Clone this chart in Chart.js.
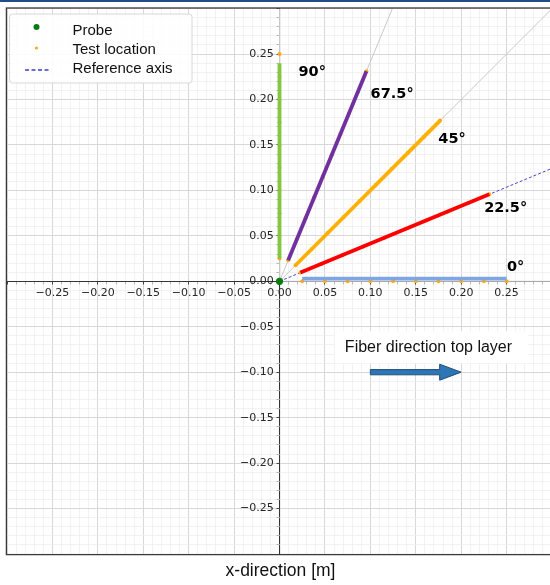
<!DOCTYPE html>
<html>
<head>
<meta charset="utf-8">
<script src="https://cdn.jsdelivr.net/npm/chart.js@4.4.1/dist/chart.umd.min.js"></script>
<style>
  html, body { margin: 0; padding: 0; background: #fff; overflow: hidden; width: 550px; height: 585px; }
  #topbar { position: absolute; left: 0; top: 0; width: 550px; height: 2px; background: #1f4b88; z-index: 2; }
  #wrap { position: absolute; left: 0; top: 0; width: 556px; height: 585px; }
</style>
</head>
<body>
<div id="topbar"></div>
<div id="wrap"><canvas id="c"></canvas></div>
<script>
// Fibre orientations of the tested layers (degrees from the x axis)
const fiberAngles = [0, 22.5, 45, 67.5, 90];
const angleLabels = ['0°', '22.5°', '45°', '67.5°', '90°'];
// Radial distance of each test location from the probe [m]
const testRadii = [0.025, 0.05, 0.075, 0.1, 0.125, 0.15, 0.175, 0.2, 0.225, 0.25];
// Measured segment along each fibre direction [m]
const segmentStart = [0.025, 0.025, 0.025, 0.025, 0.025];
const segmentEnd = [0.25, 0.25, 0.25, 0.25, 0.24];
const segmentShift = [0.003, 0, 0, 0, 0];
// Reference axes run from the probe past the plot edge
const referenceLength = 0.45;
// Probe position [m]
const probeX = [0];
const probeY = [0];
// Angle annotation anchors [m]
const angleLabelX = [0.26, 0.249, 0.19, 0.124, 0.036];
const angleLabelY = [0.016, 0.08, 0.156, 0.206, 0.23];
// Top-layer fibre direction arrow [m]
const fiberNote = 'Fiber direction top layer';
const fiberNoteX = 0.164;
const fiberNoteY = -0.0725;
const fiberArrowX = [0.1, 0.2];
const fiberArrowY = -0.1;
// Axis limits and tick spacing [m]
const axisMin = -0.3, axisMax = 0.3, minorStep = 0.01;

const segmentColors = ['#7fa6e0', '#ff0000', '#ffb000', '#7030a0', '#84c640'];
const referenceColors = ['#c8c8c8', '#4848cc', '#c8c8c8', '#c8c8c8', '#c8c8c8'];
const referenceDashes = [[], [3, 2], [], [], []];

const rad = a => a * Math.PI / 180;
const polar = (r, a, s) => ({
  x: r * Math.cos(rad(a)) - (s || 0) * Math.sin(rad(a)),
  y: r * Math.sin(rad(a)) + (s || 0) * Math.cos(rad(a))
});

const datasets = [];
datasets.push({
  label: 'Probe',
  data: probeX.map((x, i) => ({ x, y: probeY[i] })),
  pointRadius: 3.6, pointBackgroundColor: '#0a7a12', pointBorderWidth: 0,
  order: 0
});
fiberAngles.forEach((a, i) => {
  datasets.push({
    label: angleLabels[i],
    data: [polar(segmentStart[i], a, segmentShift[i]), polar(segmentEnd[i], a, segmentShift[i])],
    showLine: true, pointRadius: 0, borderColor: segmentColors[i], borderWidth: 3.8,
    borderCapStyle: 'butt', order: 1
  });
});
datasets.push({
  label: 'Test location',
  data: fiberAngles.flatMap(a => testRadii.map(r => polar(r, a))),
  pointRadius: 2, pointBackgroundColor: '#ffa81c', pointBorderWidth: 0,
  order: 2
});
fiberAngles.forEach((a, i) => {
  datasets.push({
    label: 'Reference axis',
    data: [polar(0, a), polar(referenceLength, a)],
    showLine: true, pointRadius: 0, borderColor: referenceColors[i], borderWidth: 1,
    borderDash: referenceDashes[i], order: 3
  });
});

const isMajor = v => Math.round(v * 100) % 5 === 0;
const isZero = v => Math.abs(v) < 1e-9;
const tickText = v => {
  const k = Math.round(v * 100);
  if (k % 5 !== 0 || Math.abs(k) >= 30) return '';
  return (k < 0 ? '\u2212' : '') + Math.abs(v).toFixed(2);
};
// y labels sit left of the centred axis; trailing spaces keep them off the spine
const yTickText = v => {
  const t = tickText(v);
  return t ? t + ' \u2009' : '';
};
const gridOpts = {
  color: c => isZero(c.tick.value) ? '#333333' : (isMajor(c.tick.value) ? '#d4d4d4' : '#ededed'),
  lineWidth: c => isZero(c.tick.value) ? 1.1 : (isMajor(c.tick.value) ? 0.9 : 0.7),
  tickColor: c => isMajor(c.tick.value) ? '#333333' : '#a0a0a0',
  tickLength: 3.5,
  drawTicks: true
};
const tickBase = {
  stepSize: minorStep, autoSkip: false, maxRotation: 0, minRotation: 0,
  color: '#262626', padding: 2,
  font: { family: 'DejaVu Sans', size: 11 }
};

const decor = {
  id: 'decor',
  afterDatasetsDraw(chart) {
    const { ctx, scales: { x: xs, y: ys } } = chart;
    ctx.save();
    // angle annotations
    ctx.font = 'bold 14.5px "DejaVu Sans"';
    ctx.fillStyle = '#000';
    ctx.textAlign = 'center';
    ctx.textBaseline = 'middle';
    angleLabels.forEach((t, i) => {
      ctx.fillText(t, xs.getPixelForValue(angleLabelX[i]), ys.getPixelForValue(angleLabelY[i]));
    });
    // top layer note with white backing
    const nx = xs.getPixelForValue(fiberNoteX), ny = ys.getPixelForValue(fiberNoteY);
    ctx.font = '16px "Liberation Sans"';
    const tw = ctx.measureText(fiberNote).width;
    ctx.fillStyle = '#ffffff';
    ctx.fillRect(nx - tw / 2 - 10, ny - 16, tw + 26, 32);
    ctx.fillStyle = '#111';
    ctx.fillText(fiberNote, nx, ny);
    // direction arrow
    const ax0 = xs.getPixelForValue(fiberArrowX[0]), ax1 = xs.getPixelForValue(fiberArrowX[1]);
    const ay = ys.getPixelForValue(fiberArrowY);
    const headL = 21.5, headH = 8, shaftH = 2.6;
    ctx.beginPath();
    ctx.moveTo(ax0, ay - shaftH);
    ctx.lineTo(ax1 - headL, ay - shaftH);
    ctx.lineTo(ax1 - headL, ay - headH);
    ctx.lineTo(ax1, ay);
    ctx.lineTo(ax1 - headL, ay + headH);
    ctx.lineTo(ax1 - headL, ay + shaftH);
    ctx.lineTo(ax0, ay + shaftH);
    ctx.closePath();
    ctx.fillStyle = '#2e75b6';
    ctx.fill();
    ctx.strokeStyle = '#1f4e79';
    ctx.lineWidth = 1;
    ctx.stroke();
    // legend
    const lx = 9.5, ly = 14, lw = 182.5, lh = 69;
    ctx.beginPath();
    ctx.roundRect(lx, ly, lw, lh, 3);
    ctx.fillStyle = 'rgba(255,255,255,0.9)';
    ctx.fill();
    ctx.strokeStyle = '#d8d8d8';
    ctx.lineWidth = 1;
    ctx.stroke();
    ctx.font = '15px "Liberation Sans"';
    ctx.textAlign = 'left';
    ctx.fillStyle = '#111';
    ctx.fillText('Probe', 72.5, 31);
    ctx.fillText('Test location', 72.5, 49.5);
    ctx.fillText('Reference axis', 72.5, 69);
    ctx.beginPath();
    ctx.arc(36.5, 27, 3, 0, Math.PI * 2);
    ctx.fillStyle = '#0a7a12';
    ctx.fill();
    ctx.beginPath();
    ctx.arc(36.5, 48, 1.6, 0, Math.PI * 2);
    ctx.fillStyle = '#ffa81c';
    ctx.fill();
    ctx.beginPath();
    ctx.setLineDash([4, 2.5]);
    ctx.moveTo(25, 70);
    ctx.lineTo(50, 70);
    ctx.strokeStyle = '#3c3cc8';
    ctx.lineWidth = 1.5;
    ctx.stroke();
    ctx.restore();
  },
  afterDraw(chart) {
    const { ctx, chartArea: a } = chart;
    ctx.save();
    ctx.strokeStyle = '#3a3a3a';
    ctx.lineWidth = 1.3;
    ctx.strokeRect(a.left - 0.6, a.top - 0.6, a.right - a.left + 1.2, a.bottom - a.top + 1.2);
    ctx.restore();
  }
};

new Chart(document.getElementById('c'), {
  type: 'scatter',
  data: { datasets },
  options: {
    responsive: true,
    maintainAspectRatio: false,
    animation: false,
    events: [],
    layout: { padding: { left: 7, top: 7, right: 2, bottom: 0 } },
    plugins: {
      legend: { display: false },
      tooltip: { enabled: false },
      title: {
        display: true, position: 'bottom', text: 'x-direction [m]',
        color: '#111', font: { family: 'Liberation Sans', size: 17.5, weight: 'normal' },
        padding: { top: 7, bottom: 3 }
      }
    },
    scales: {
      x: {
        type: 'linear', min: axisMin, max: axisMax, position: { y: 0 },
        afterFit: s => { s.height = 0; },
        grid: gridOpts, border: { display: false },
        ticks: Object.assign({}, tickBase, { callback: tickText })
      },
      y: {
        type: 'linear', min: axisMin, max: axisMax, position: { x: 0 },
        afterFit: s => { s.width = 0; },
        grid: gridOpts, border: { display: false },
        ticks: Object.assign({}, tickBase, { callback: yTickText })
      }
    }
  },
  plugins: [decor]
});
</script>
</body>
</html>
